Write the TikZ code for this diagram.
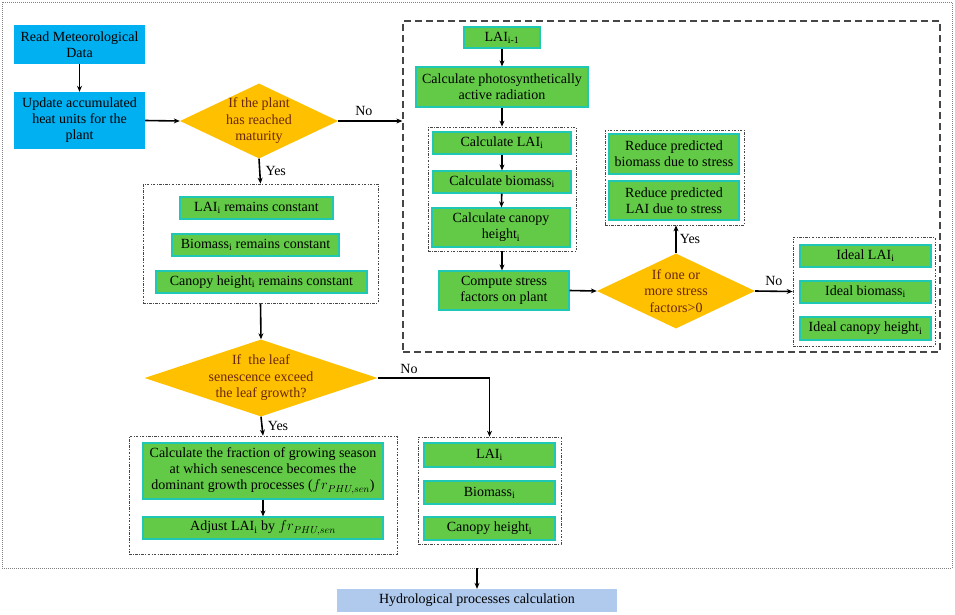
\documentclass[tikz,border=0pt]{standalone}
\usepackage{fontspec}
\setmainfont{Liberation Serif}
\usetikzlibrary{shapes.geometric,arrows.meta}
\definecolor{gfill}{RGB}{98,202,70}
\definecolor{gborder}{RGB}{30,200,180}
\definecolor{bfill}{RGB}{0,176,240}
\definecolor{hfill}{RGB}{175,202,236}
\definecolor{dfill}{RGB}{255,192,0}
\definecolor{dtext}{RGB}{105,40,10}
\definecolor{framegray}{RGB}{70,70,70}
\tikzset{
  gbox/.style={draw=gborder,line width=1.2pt,fill=gfill,inner sep=0pt,align=center,font=\fontsize{14}{16}\selectfont},
  bbox/.style={fill=bfill,inner sep=0pt,align=center,font=\fontsize{14}{16}\selectfont},
  hbox/.style={fill=hfill,inner sep=0pt,align=center,font=\fontsize{14}{16}\selectfont},
  dia/.style={diamond,fill=dfill,inner sep=0pt},
  diatext/.style={align=center,text=dtext,font=\fontsize{14}{16.5}\selectfont,inner sep=0pt},
  ddbox/.style={draw=framegray,line width=0.7pt,dash pattern=on 2.5pt off 1.5pt on 0.7pt off 1.5pt,inner sep=0pt},
  dashframe/.style={draw=framegray,line width=1.3pt,dash pattern=on 7pt off 4pt,inner sep=0pt},
  outerframe/.style={draw=gray,line width=0.8pt,dash pattern=on 1pt off 1pt,inner sep=0pt},
  conn/.style={line width=1.6pt,-{Stealth[length=6pt,width=5pt]}},
  lbl/.style={font=\fontsize{14}{16}\selectfont,inner sep=0pt}
}
\newcommand{\sbi}{\textsubscript{i}}
\begin{document}
\begin{tikzpicture}[x=1pt,y=-1pt]
\useasboundingbox (0,0) rectangle (955,614);
% frames
\node[outerframe,minimum width=950pt,minimum height=566pt] (outer) at (477,285) {};
\node[dashframe,minimum width=537pt,minimum height=331pt] (dframe) at (671.5,186.5) {};
% left column
\node[bbox,minimum width=131pt,minimum height=39pt] (read) at (79.5,44.5) {Read Meteorological\\Data};
\node[bbox,minimum width=131pt,minimum height=57pt] (update) at (79.5,120.5) {Update accumulated\\heat units for the\\plant};
\node[dia,minimum width=158pt,minimum height=75pt] (d1) at (259,121) {};
\node[diatext] (d1t) at (d1.center) {If the plant\\has reached\\maturity};
% remain box
\node[ddbox,minimum width=235pt,minimum height=119pt] (remain) at (260.5,243.5) {};
\node[gbox,minimum width=153pt,minimum height=22pt] (r1) at (256.5,208) {LAI\sbi{} remains constant};
\node[gbox,minimum width=167pt,minimum height=22pt] (r2) at (255.5,245) {Biomass\sbi{} remains constant};
\node[gbox,minimum width=211pt,minimum height=22pt] (r3) at (261.5,282) {Canopy height\sbi{} remains constant};
% diamond 2
\node[dia,minimum width=233pt,minimum height=77pt] (d2) at (261,378) {};
\node[diatext] (d2t) at (d2.center) {If\ \ the leaf\\senescence exceed\\the leaf growth?};
% box 3
\node[ddbox,minimum width=268pt,minimum height=118pt] (box3) at (263,495) {};
\node[gbox,minimum width=240pt,minimum height=56pt] (frac) at (263,471) {Calculate the fraction of growing season\\at which senescence becomes the\\dominant growth processes ($fr_{PHU,sen}$)};
\node[gbox,minimum width=240pt,minimum height=22pt] (adj) at (263,528) {Adjust LAI\sbi{} by $fr_{PHU,sen}$};
% box 4
\node[ddbox,minimum width=143pt,minimum height=107pt] (box4) at (489.5,490.5) {};
\node[gbox,minimum width=131pt,minimum height=24pt] (b41) at (489.5,455) {LAI\sbi};
\node[gbox,minimum width=131pt,minimum height=23pt] (b42) at (489.5,492.5) {Biomass\sbi};
\node[gbox,minimum width=131pt,minimum height=23pt] (b43) at (489.5,528.5) {Canopy height\sbi};
% hydro
\node[hbox,minimum width=280pt,minimum height=23pt] (hydro) at (477,600.5) {Hydrological processes calculation};
% dashed frame contents
\node[gbox,minimum width=76pt,minimum height=21pt] (laim) at (502,37.5) {LAI\textsubscript{i-1}};
\node[gbox,minimum width=172pt,minimum height=40pt] (par) at (502,87) {Calculate photosynthetically\\active radiation};
\node[ddbox,minimum width=148pt,minimum height=124pt] (box2) at (502,189) {};
\node[gbox,minimum width=138pt,minimum height=22pt] (clai) at (502,143) {Calculate LAI\sbi};
\node[gbox,minimum width=138pt,minimum height=22pt] (cbio) at (502,182) {Calculate biomass\sbi};
\node[gbox,minimum width=138pt,minimum height=39pt] (ccan) at (501,227.5) {Calculate canopy\\height\sbi};
\node[gbox,minimum width=130pt,minimum height=39pt] (comp) at (504,290.5) {Compute stress\\factors on plant};
\node[dia,minimum width=158pt,minimum height=75pt] (d3) at (676,291) {};
\node[diatext] (d3t) at (d3.center) {If one or\\more stress\\factors>0};
\node[ddbox,minimum width=139pt,minimum height=95pt] (redbox) at (674.5,177.5) {};
\node[gbox,minimum width=130pt,minimum height=40pt] (red1) at (674,154) {Reduce predicted\\biomass due to stress};
\node[gbox,minimum width=130pt,minimum height=39pt] (red2) at (674,200.5) {Reduce predicted\\LAI due to stress};
\node[ddbox,minimum width=142pt,minimum height=109pt] (idbox) at (864,291.5) {};
\node[gbox,minimum width=131pt,minimum height=22pt] (id1) at (865.5,256) {Ideal LAI\sbi};
\node[gbox,minimum width=131pt,minimum height=22pt] (id2) at (865.5,292) {Ideal biomass\sbi};
\node[gbox,minimum width=131pt,minimum height=23pt] (id3) at (865.5,328.5) {Ideal canopy height\sbi};
% connectors
\draw[conn] (read) -- (update);
\draw[conn] (update.east) -- (d1.west);
\draw[conn] (d1.east) -- (d1.east -| dframe.west) node[lbl,pos=0.4,above=5pt] {No};
\draw[conn] (d1.south) -- (remain.north) node[lbl,midway,right=5pt] {Yes};
\draw[conn] (remain.south) -- (d2.north);
\draw[conn] (d2.south) -- (box3.north) node[lbl,midway,right=5pt] {Yes};
\draw[conn] (d2.east) -| (box4.north) node[lbl,pos=0.14,above=4pt] {No};
\draw[conn] (frac) -- (adj);
\draw[conn] (outer.south) -- (hydro.north);
\draw[conn] (laim) -- (par);
\draw[conn] (par.south) -- (box2.north);
\draw[conn] (clai) -- (cbio);
\draw[conn] (cbio) -- (ccan);
\draw[conn] (box2.south) -- (box2.south |- comp.north);
\draw[conn] (comp.east) -- (d3.west);
\draw[conn] (d3.north) -- (d3.north |- redbox.south) node[lbl,midway,right=3pt] {Yes};
\draw[conn] (d3.east) -- (idbox.west) node[lbl,midway,above=5pt] {No};
\end{tikzpicture}
\end{document}
